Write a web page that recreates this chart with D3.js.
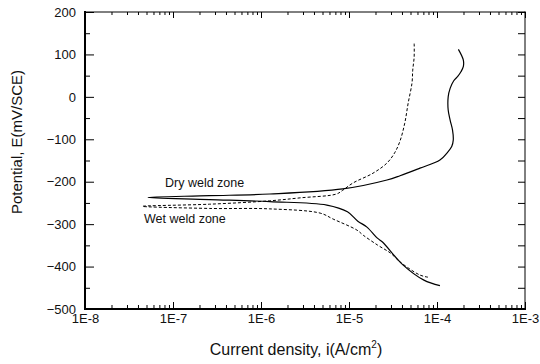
<!DOCTYPE html>
<html>
<head>
<meta charset="utf-8">
<script src="https://cdnjs.cloudflare.com/ajax/libs/d3/7.8.5/d3.min.js"></script>
<style>
  body { margin: 0; background: #fff; }
  text { font-family: Arial, "Liberation Sans", sans-serif; fill: #111; }
</style>
</head>
<body>
<script>
// Polarisation curves (current in A/cm2, potential in mV).
// Each curve goes from the cathodic end, through Ecorr, up the anodic branch.
let dryCurrent = [1.08e-4, 7.1e-5, 4.1e-5, 2.4e-5, 2.1e-5, 1.6e-5, 1.26e-5, 9.6e-6, 5.6e-6, 1.26e-6, 2.6e-7, 5.2e-8,
                  2.6e-7, 1.26e-6, 8.5e-6, 2.7e-5, 3.8e-5, 6.4e-5, 1.08e-4, 1.29e-4, 1.47e-4, 1.53e-4, 1.50e-4,
                  1.41e-4, 1.34e-4, 1.34e-4, 1.41e-4, 1.55e-4, 1.72e-4, 1.87e-4, 1.99e-4, 1.99e-4, 1.75e-4];
let dryPotential = [-445, -432, -396, -342, -333, -307, -293, -271, -255, -247, -242, -237,
                    -233, -229, -217, -196, -186, -168, -149, -133, -117, -102, -78,
                    -55, -31, 0, 20, 38, 48, 59, 71, 87, 112];

let wetCurrent = [7.9e-5, 6.4e-5, 3.8e-5, 2.95e-5, 2.1e-5, 1.45e-5, 1.23e-5, 6.6e-6, 4.7e-6, 1.26e-6, 2.6e-7, 4.5e-8,
                  2.6e-7, 1.26e-6, 2.8e-6, 7.2e-6, 8.5e-6, 1.11e-5, 1.87e-5, 2.7e-5, 3.3e-5, 3.8e-5, 4.3e-5,
                  4.7e-5, 5.2e-5, 5.3e-5, 5.5e-5, 5.5e-5];
let wetPotential = [-425, -420, -389, -368, -349, -326, -314, -288, -274, -264, -263, -258,
                    -253, -245, -238, -229, -220, -203, -180, -156, -132, -104, -62,
                    -15, 33, 63, 94, 127];

let xTickValues = [1e-8, 1e-7, 1e-6, 1e-5, 1e-4, 1e-3];
let xTickLabels = ['1E-8', '1E-7', '1E-6', '1E-5', '1E-4', '1E-3'];
let yTickValues = [200, 100, 0, -100, -200, -300, -400, -500];
let yMinorValues = [150, 50, -50, -150, -250, -350, -450];

let w = 540;
let h = 364;
let pLeft = 85, pRight = 525, pTop = 12, pBottom = 309;

let svg = d3.select('body')
            .append('svg')
            .attr('width', w)
            .attr('height', h);

let xScale = d3.scaleLog()
               .domain([1e-8, 1e-3])
               .range([pLeft, pRight]);

let yScale = d3.scaleLinear()
               .domain([-500, 200])
               .range([pBottom, pTop]);

// minor log ticks 2..9 in every decade (the scale gives them, we drop the decades)
let xMinor = xScale.ticks().filter(d => Math.abs(Math.log10(d) - Math.round(Math.log10(d))) > 1e-6);

// Bottom axis: inward ticks, labels below.
svg.append('g')
   .attr('transform', 'translate(0,' + pBottom + ')')
   .call(d3.axisBottom(xScale).tickValues(xMinor).tickSize(-4).tickFormat(''));

svg.append('g')
   .attr('transform', 'translate(0,' + pBottom + ')')
   .call(d3.axisBottom(xScale)
           .tickValues(xTickValues)
           .tickSize(-7)
           .tickPadding(5)
           .tickFormat((d, i) => xTickLabels[i]));

// Top axis, ticks only.
svg.append('g')
   .attr('transform', 'translate(0,' + pTop + ')')
   .call(d3.axisTop(xScale).tickValues(xMinor).tickSize(-3).tickFormat(''));

svg.append('g')
   .attr('transform', 'translate(0,' + pTop + ')')
   .call(d3.axisTop(xScale).tickValues(xTickValues).tickSize(-6).tickFormat(''));

// Left axis.
svg.append('g')
   .attr('transform', 'translate(' + pLeft + ',0)')
   .call(d3.axisLeft(yScale).tickValues(yMinorValues).tickSize(-5).tickFormat(''));

svg.append('g')
   .attr('transform', 'translate(' + pLeft + ',0)')
   .call(d3.axisLeft(yScale)
           .tickValues(yTickValues)
           .tickSize(-9)
           .tickPadding(9));

// Right axis, every 50 mV the same length.
svg.append('g')
   .attr('transform', 'translate(' + pRight + ',0)')
   .call(d3.axisRight(yScale).tickValues(yTickValues.concat(yMinorValues)).tickSize(-7).tickFormat(''));

svg.selectAll('.domain').remove();
svg.selectAll('.tick line').attr('stroke', '#000').attr('stroke-width', 1);
svg.selectAll('.tick text').style('font-size', '13px').attr('fill', '#111');

// frame: left and bottom heavier than top and right
let frame = [
  [pLeft, pTop, pRight, pTop, 1],
  [pRight, pTop, pRight, pBottom, 1],
  [pLeft, pBottom, pRight, pBottom, 2],
  [pLeft, pTop, pLeft, pBottom, 2]
];
svg.selectAll('.frame')
   .data(frame)
   .enter()
   .append('line')
   .attr('class', 'frame')
   .attr('x1', d => d[0])
   .attr('y1', d => d[1])
   .attr('x2', d => d[2])
   .attr('y2', d => d[3])
   .attr('stroke', '#000')
   .attr('stroke-linecap', 'square')
   .attr('stroke-width', d => d[4]);

let line = d3.line()
             .x(d => xScale(d[0]))
             .y(d => yScale(d[1]))
             .curve(d3.curveCatmullRom.alpha(0.5));

svg.append('path')
   .datum(dryCurrent.map((c, i) => [c, dryPotential[i]]))
   .attr('d', line)
   .attr('fill', 'none')
   .attr('stroke', '#000')
   .attr('stroke-width', 1.2);

svg.append('path')
   .datum(wetCurrent.map((c, i) => [c, wetPotential[i]]))
   .attr('d', line)
   .attr('fill', 'none')
   .attr('stroke', '#000')
   .attr('stroke-width', 1)
   .attr('stroke-dasharray', '3,2');

// curve labels
svg.append('text')
   .attr('x', 165)
   .attr('y', 187)
   .style('font-size', '12.5px')
   .text('Dry weld zone');

svg.append('text')
   .attr('x', 144)
   .attr('y', 223)
   .style('font-size', '12.5px')
   .text('Wet weld zone');

// axis titles
let xTitle = svg.append('text')
                .attr('x', 296)
                .attr('y', 355)
                .attr('text-anchor', 'middle')
                .style('font-size', '16px');
xTitle.append('tspan').text('Current density, i(A/cm');
xTitle.append('tspan').attr('dy', -7).style('font-size', '10px').text('2');
xTitle.append('tspan').attr('dy', 7).text(')');

svg.append('text')
   .attr('transform', 'translate(22,' + 142 + ') rotate(-90)')
   .attr('text-anchor', 'middle')
   .style('font-size', '15px')
   .text('Potential, E(mV/SCE)');
</script>
</body>
</html>
